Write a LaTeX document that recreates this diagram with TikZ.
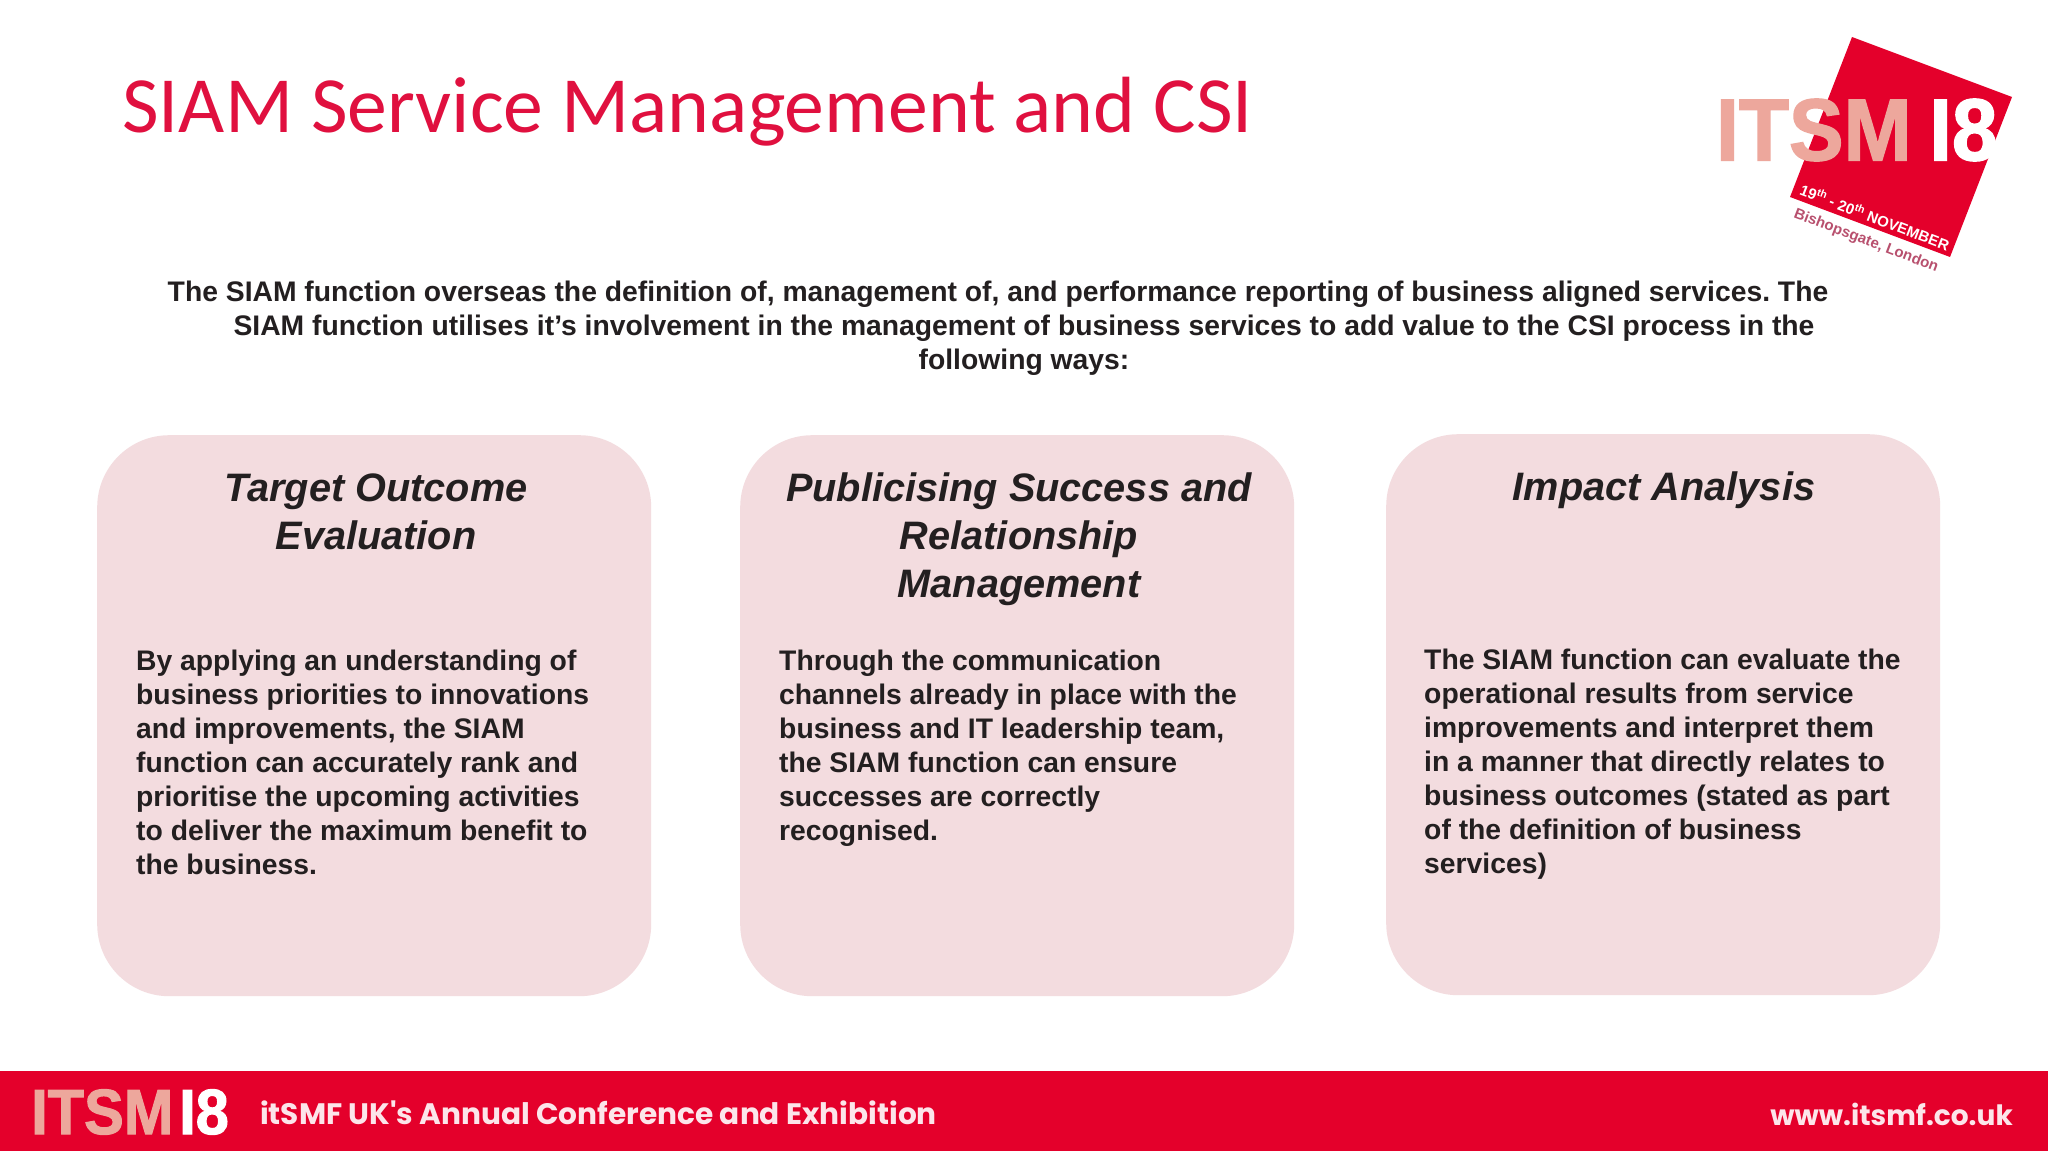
\documentclass[tikz,border=0pt]{standalone}
\usepackage{fontspec}
\setmainfont{Liberation Sans}
\newfontfamily\titlefont{Carlito}
\newfontfamily\logofont{Poppins}
\newfontfamily\markfont[FakeBold=1.6,FakeStretch=0.93]{Liberation Sans Bold}
\definecolor{SlideRed}{HTML}{E4002B}
\definecolor{TitleRed}{HTML}{E0103F}
\definecolor{CardPink}{HTML}{F3DCDF}
\definecolor{LogoSalmon}{HTML}{EDA79C}
\definecolor{LogoPink}{HTML}{B8506E}
\definecolor{InkDark}{HTML}{231F20}
\tikzstyle{card-box}=[draw=none, fill=CardPink, rounded corners=72pt, anchor=north west, minimum width=554pt, minimum height=561pt]
\tikzstyle{card-head}=[text=InkDark, anchor=north, align=center, inner sep=0pt, font={\fontsize{39.7}{48}\selectfont\bfseries\itshape}]
\tikzstyle{card-text}=[text=InkDark, anchor=north west, align=left, inner sep=0pt, font={\fontsize{28.3}{34}\selectfont\bfseries}]
\begin{document}
\frenchspacing
\begin{tikzpicture}[x=1pt, y=-1pt]
      \useasboundingbox (0,0) rectangle (2048,1152);
      \fill[white] (0,0) rectangle (2048,1152);

      \node (title) at (122,112) [anchor=west, inner sep=0pt, text=TitleRed, font={\titlefont\fontsize{79.7}{90}\selectfont}] {SIAM Service Management and CSI};

      \fill[SlideRed] (1852,37) -- (2012,97) -- (1950,257) -- (1790,197) -- cycle;
      \node (logo:itsm) at (1716,130) [anchor=west, inner sep=0pt, text=LogoSalmon, font={\markfont\fontsize{88}{88}\selectfont}] {ITSM};
      \node (logo:year) at (1929,130) [anchor=west, inner sep=0pt, text=white, font={\markfont\fontsize{88}{88}\selectfont}] {I8};
      \node (logo:date) at (1875,217) [rotate=-21, inner sep=0pt, text=white, font={\fontsize{15}{15}\selectfont\bfseries}] {19\textsuperscript{th} - 20\textsuperscript{th} NOVEMBER};
      \node (logo:place) at (1866,241) [rotate=-21, inner sep=0pt, text=LogoPink, font={\fontsize{15}{15}\selectfont\bfseries}] {Bishopsgate, London};

      \node (intro) at (1024,281) [anchor=north, align=center, inner sep=0pt, text=InkDark, font={\fontsize{28.3}{34}\selectfont\bfseries}] {The SIAM function overseas the definition of, management of, and performance reporting of business aligned services. The\hspace*{52pt}\\SIAM function utilises it’s involvement in the management of business services to add value to the CSI process in the\\following ways:};

      \node (card:1) at (97,435) [card-box] {};
      \node (card:2) at (740,435) [card-box] {};
      \node (card:3) at (1386,434) [card-box] {};

      \node (head:1) at (376,474) [card-head] {Target Outcome\\Evaluation};
      \node (head:2) at (1019,473) [card-head] {Publicising Success and\\Relationship\\Management};
      \node (head:3) at (1664,472) [card-head] {Impact Analysis};

      \node (text:1) at (136,650) [card-text] {By applying an understanding of\\business priorities to innovations\\and improvements, the SIAM\\function can accurately rank and\\prioritise the upcoming activities\\to deliver the maximum benefit to\\the business.};
      \node (text:2) at (779,650) [card-text] {Through the communication\\channels already in place with the\\business and IT leadership team,\\the SIAM function can ensure\\successes are correctly\\recognised.};
      \node (text:3) at (1424,649) [card-text] {The SIAM function can evaluate the\\operational results from service\\improvements and interpret them\\in a manner that directly relates to\\business outcomes (stated as part\\of the definition of business\\services)};

      \fill[SlideRed] (0,1071) rectangle (2048,1151);
      \node (foot:itsm) at (31,1112) [anchor=west, inner sep=0pt, text=LogoSalmon, font={\markfont\fontsize{64}{64}\selectfont}] {ITSM};
      \node (foot:year) at (179,1112) [anchor=west, inner sep=0pt, text=white, font={\markfont\fontsize{64}{64}\selectfont}] {I8};
      \node (foot:name) at (260,1113) [anchor=west, inner sep=0pt, text=white!90!SlideRed, font={\logofont\fontsize{29.6}{30}\selectfont\bfseries}] {itSMF UK's Annual Conference and Exhibition};
      \node (foot:web) at (2013,1114) [anchor=east, inner sep=0pt, text=white!90!SlideRed, font={\logofont\fontsize{28}{28}\selectfont\bfseries}] {www.itsmf.co.uk};
    \end{tikzpicture}
\end{document}
